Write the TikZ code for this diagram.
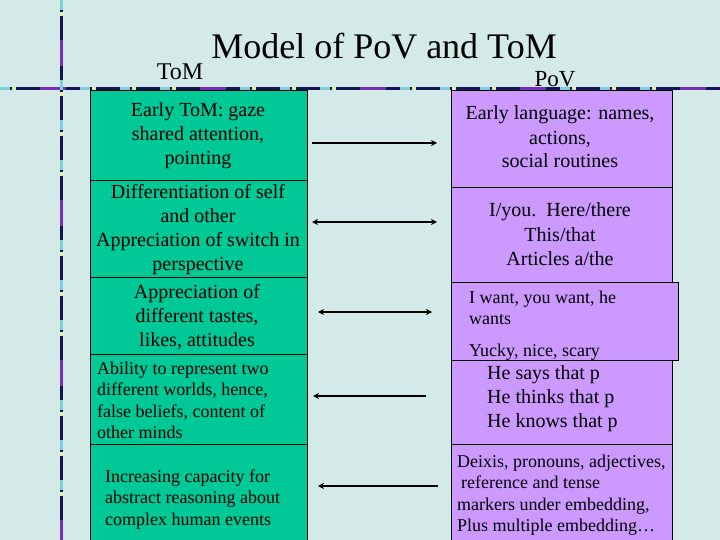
\documentclass[tikz,border=0pt]{standalone}
\usepackage{fontspec}
\setmainfont{Liberation Serif}
\usetikzlibrary{arrows.meta}
\definecolor{bgc}{HTML}{D3EAE8}
\definecolor{tomg}{HTML}{00C896}
\definecolor{povp}{HTML}{CC99FF}
\definecolor{navy}{HTML}{141450}
\definecolor{decc}{HTML}{7CCFDC}
\definecolor{decy}{HTML}{E6F0A8}
\definecolor{decp}{HTML}{7A2CC0}
\begin{document}
\begin{tikzpicture}[x=1pt,y=-1pt,
  tombox/.style={draw=black,line width=0.8pt,fill=tomg,anchor=north west,inner sep=0pt,outer sep=0pt},
  povbox/.style={draw=black,line width=0.8pt,fill=povp,anchor=north west,inner sep=0pt,outer sep=0pt},
  txtc/.style={anchor=base,align=center,inner sep=0pt},
  txtl/.style={anchor=base west,align=left,inner sep=0pt},
  fbig/.style={font=\fontsize{20}{24}\selectfont},
  fsmall/.style={font=\fontsize{18}{21.5}\selectfont},
  link/.style={line width=1.6pt,black},
  tipr/.style={-{Stealth[length=6pt,width=6pt]}},
  tipl/.style={{Stealth[length=6pt,width=6pt]}-},
  tipb/.style={{Stealth[length=6pt,width=6pt]}-{Stealth[length=6pt,width=6pt]}},
  deco/.style={line width=3pt}
]
\useasboundingbox (0,0) rectangle (720,540);
\clip (0,0) rectangle (720,540);
\fill[bgc] (0,0) rectangle (720,540);

% decorative rules
\coordinate (hl) at (0,88.5);
\coordinate (hr) at (720,88.5);
\coordinate (vt) at (61,0);
\coordinate (vb) at (61,540);
\foreach \a/\b in {hl/hr,vt/vb}{
  \draw[deco,navy] (\a) -- (\b);
  \draw[deco,decc,dash pattern=on 10pt off 30pt] (\a) -- (\b);
  \draw[deco,decy,dash pattern=on 4pt off 36pt,dash phase=-12pt] (\a) -- (\b);
  \draw[deco,decp,dash pattern=on 26pt off 134pt,dash phase=-40pt] (\a) -- (\b);
}

% titles
\node[font=\fontsize{36}{40}\selectfont,anchor=base,inner sep=0pt] (title) at (384,59) {Model of PoV and ToM};
\node[font=\fontsize{24}{28}\selectfont,anchor=base,inner sep=0pt] (tomlab) at (180,80) {ToM};
\node[font=\fontsize{23}{28}\selectfont,anchor=base,inner sep=0pt] (povlab) at (555,87) {PoV};

% ToM column
\node[tombox,minimum width=217pt,minimum height=90pt] (L1) at (90,90) {};
\node[tombox,minimum width=217pt,minimum height=97pt] (L2) at (90,180) {};
\node[tombox,minimum width=217pt,minimum height=77pt] (L3) at (90,277) {};
\node[tombox,minimum width=217pt,minimum height=90pt] (L4) at (90,354) {};
\node[tombox,minimum width=217pt,minimum height=100pt] (L5) at (90,444) {};

\node[txtc,fbig] (L1t) at (198,165) {Early ToM: gaze\\shared attention,\\pointing};
\node[txtc,fbig] (L2t) at (198,270) {Differentiation of self\\and other\\Appreciation of switch in\\perspective};
\node[txtc,fbig] (L3t) at (197,346) {Appreciation of\\different tastes,\\likes, attitudes};
\node[txtl,fsmall] (L4t) at (97,438.5) {Ability to represent two\\different worlds, hence,\\false beliefs, content of\\other minds};
\node[txtl,fsmall] (L5t) at (105,525) {Increasing capacity for\\abstract reasoning about\\complex human events};

% PoV column
\node[povbox,minimum width=221pt,minimum height=97pt] (R1) at (451,90) {};
\node[povbox,minimum width=221pt,minimum height=95pt] (R2) at (451,187) {};
\node[povbox,minimum width=227pt,minimum height=78pt] (R3) at (451,282) {};
\node[povbox,minimum width=221pt,minimum height=84pt] (R4) at (451,360) {};
\node[povbox,minimum width=221pt,minimum height=100pt] (R5) at (451,444) {};

\node[txtc,fbig] (R1t) at (560,168) {Early language: names,\\actions,\\social routines};
\node[txtc,fbig] (R2t) at (560,265) {I/you.\ \ Here/there\\This/that\\Articles a/the};
\node[txtl,fsmall] (R3t) at (469,356) {I want, you want, he\\wants\\[10pt]Yucky, nice, scary};
\node[txtl,fbig] (R4t) at (487,427) {He says that p\\He thinks that p\\He knows that p};
\node[txtl,fsmall] (R5t) at (457,531.5) {Deixis, pronouns, adjectives,\\\hspace*{4pt}reference and tense\\markers under embedding,\\Plus multiple embedding…};

% connectors
\coordinate (a1s) at (312,143); \coordinate (a1e) at (437,143);
\coordinate (a2s) at (312,222); \coordinate (a2e) at (437,222);
\coordinate (a3s) at (318,312); \coordinate (a3e) at (432,312);
\coordinate (a4s) at (313,396); \coordinate (a4e) at (426,396);
\coordinate (a5s) at (318,486); \coordinate (a5e) at (438,486);
\draw[link,tipr] (a1s) -- (a1e);
\draw[link,tipb] (a2s) -- (a2e);
\draw[link,tipb] (a3s) -- (a3e);
\draw[link,tipl] (a4s) -- (a4e);
\draw[link,tipl] (a5s) -- (a5e);
\end{tikzpicture}
\end{document}
